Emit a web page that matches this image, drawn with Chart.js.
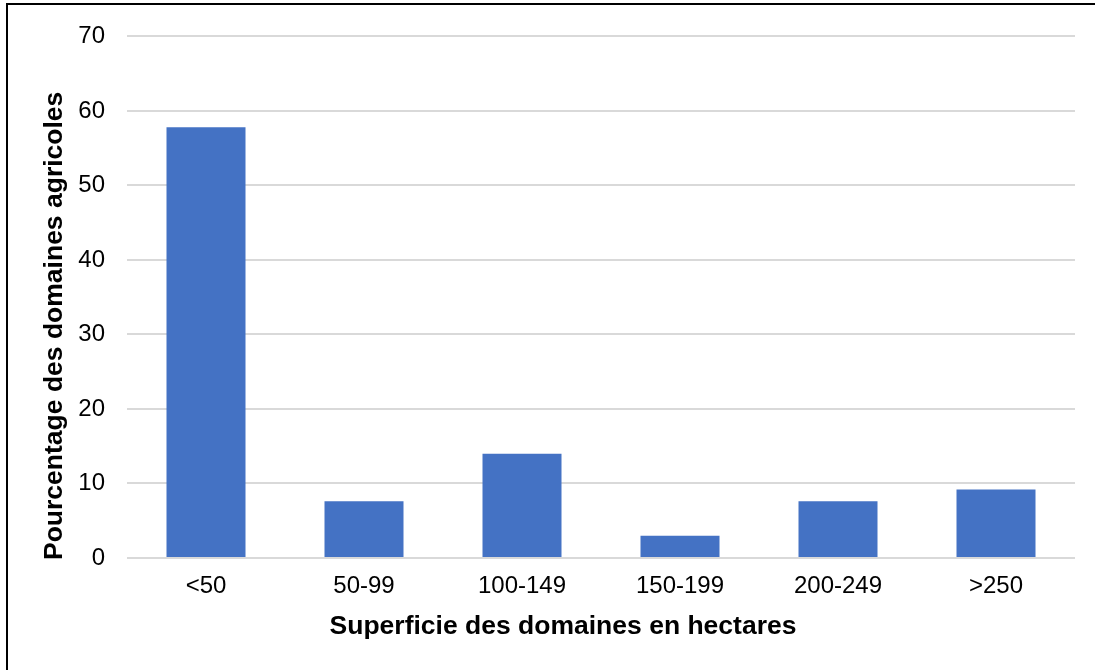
<!DOCTYPE html>
<html>
<head>
<meta charset="utf-8">
<script src="https://cdn.jsdelivr.net/npm/chart.js@4"></script>
<style>
  html, body { margin: 0; padding: 0; background: #fff; }
  #wrap { position: relative; width: 1095px; height: 670px; overflow: hidden; }
  #frame { position: absolute; left: 6px; top: 3px; width: 1200px; height: 800px; border: 2px solid #000; box-sizing: border-box; }
  canvas { position: absolute; left: 0; top: 0; }
</style>
</head>
<body>
<div id="wrap">
  <div id="frame"></div>
  <canvas id="chart" width="1095" height="670"></canvas>
</div>
<script>
const categories = ["<50", "50-99", "100-149", "150-199", "200-249", ">250"];
const percentages = [57.8, 7.6, 14.0, 3.0, 7.6, 9.2];
const yTicks = [0, 10, 20, 30, 40, 50, 60, 70];
const xTitle = "Superficie des domaines en hectares";
const yTitle = "Pourcentage des domaines agricoles";

// axis titles drawn by hand so they sit where the original has them
const axisTitles = {
  id: "axisTitles",
  afterDraw(chart) {
    const c = chart.ctx;
    const area = chart.chartArea;
    c.save();
    c.fillStyle = "#000";
    c.font = "bold 26.5px 'Liberation Sans'";
    c.textBaseline = "middle";
    c.textAlign = "center";
    c.fillText(xTitle, 563, 627);
    c.translate(55, area.bottom + 2);
    c.rotate(-Math.PI / 2);
    c.textAlign = "left";
    c.fillText(yTitle, 0, 0);
    c.restore();
  }
};

const ctx = document.getElementById("chart").getContext("2d");
new Chart(ctx, {
  type: "bar",
  data: {
    labels: categories,
    datasets: [{
      data: percentages,
      backgroundColor: "#4472C4",
      categoryPercentage: 1,
      barPercentage: 0.5
    }]
  },
  plugins: [axisTitles],
  options: {
    responsive: false,
    animation: false,
    layout: { padding: { left: 0, right: 20, top: 34, bottom: 0 } },
    plugins: { legend: { display: false }, tooltip: { enabled: false } },
    scales: {
      x: {
        grid: { display: false, drawTicks: false },
        border: { display: false },
        ticks: { color: "#000", font: { family: "Liberation Sans", size: 24 }, padding: 14 },
        afterFit: s => { s.height = 112; }
      },
      y: {
        min: 0,
        max: 70,
        afterBuildTicks: s => { s.ticks = yTicks.map(v => ({ value: v })); },
        grid: { color: "#d9d9d9", lineWidth: 2, drawTicks: false },
        border: { display: false },
        ticks: { color: "#000", font: { family: "Liberation Sans", size: 24 }, padding: 22 },
        afterFit: s => { s.width = 127; }
      }
    }
  }
});
</script>
</body>
</html>
